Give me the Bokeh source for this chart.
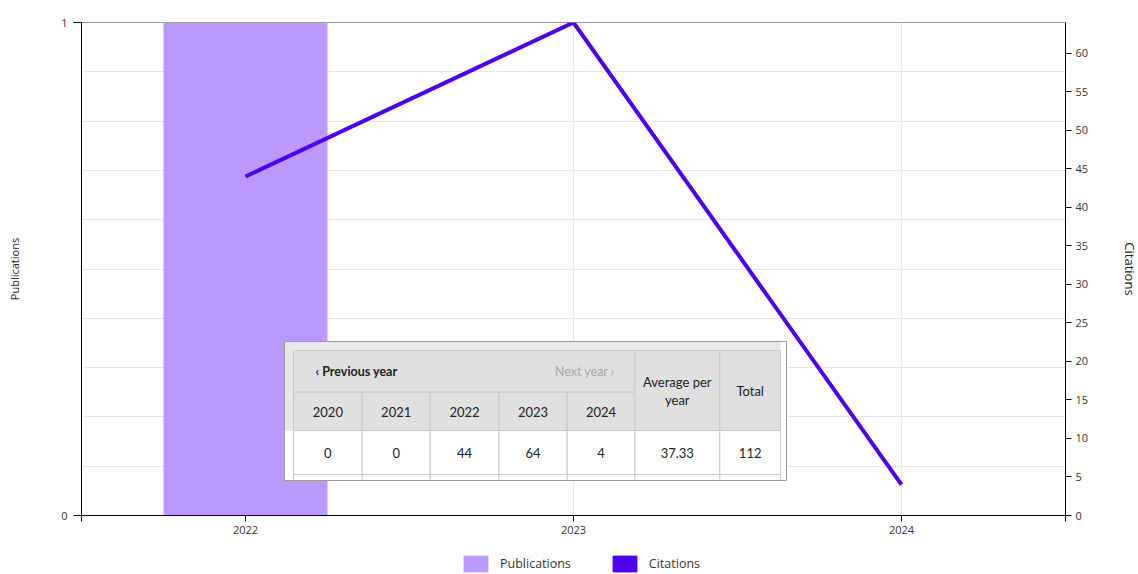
from bokeh.plotting import figure
from bokeh.layouts import column
from bokeh.models import (Range1d, LinearAxis, FixedTicker, SingleIntervalTicker,
                          Legend, LegendItem, NumeralTickFormatter)
from bokeh.embed import file_html
from bokeh.resources import INLINE
from bokeh.core.properties import value

# ---------------- data ----------------
years = [2022, 2023, 2024]
publications = [1, 0, 0]
citations = [44, 64, 4]

x_ticks = [2021.5, 2022, 2023, 2024, 2024.5]
pub_ticks = [0, 1]
cit_ticks = [0, 5, 10, 15, 20, 25, 30, 35, 40, 45, 50, 55, 60]

legend_labels = ["Publications", "Citations"]
axis_left_label = "Publications"
axis_right_label = "Citations"

table_years = ["2020", "2021", "2022", "2023", "2024"]
table_values = ["0", "0", "44", "64", "4"]
table_average = "37.33"
table_total = "112"
table_prev = "\u2039 Previous year"
table_next = "Next year \u203a"
table_avg_head = ["Average per", "year"]
table_total_head = "Total"

# ---------------- style ----------------
PUB_COLOR = "#bb99ff"
CIT_COLOR = "#4c00ee"
FONT = "Open Sans"
TFONT = "Lato"
FW, FH = 984, 493

p = figure(frame_width=FW, frame_height=FH,
           x_range=Range1d(2021.5, 2024.5), y_range=Range1d(0, 1),
           output_backend="svg", toolbar_location=None,
           min_border_left=81, min_border_right=73, min_border_top=22,
           min_border_bottom=30)
p.extra_y_ranges = {"cit": Range1d(0, 64), "py": Range1d(FH, 0)}
p.extra_x_ranges = {"px": Range1d(0, FW)}
p.outline_line_color = "#999999"
p.background_fill_color = "white"
p.border_fill_color = "white"

# grids
p.xgrid.ticker = FixedTicker(ticks=years)
p.xgrid.grid_line_color = "#e6e6e6"
p.ygrid.ticker = SingleIntervalTicker(interval=0.1, num_minor_ticks=0)
p.ygrid.grid_line_color = "#e6e6e6"

# x axis
xa = p.xaxis[0]
xa.ticker = FixedTicker(ticks=x_ticks)
xa.formatter = NumeralTickFormatter(format="0")
xa.major_label_overrides = {2021.5: "", 2024.5: ""}
xa.major_tick_out = 6
xa.major_tick_in = 0
xa.minor_tick_out = 0
xa.minor_tick_in = 0
xa.axis_line_color = "black"
xa.major_tick_line_color = "black"
xa.major_label_text_font = FONT
xa.major_label_text_font_size = "11px"
xa.major_label_text_color = "#333333"
xa.major_label_standoff = 4

# left axis
ya = p.yaxis[0]
ya.ticker = FixedTicker(ticks=pub_ticks)
ya.major_tick_out = 8
ya.major_tick_in = 0
ya.minor_tick_out = 0
ya.minor_tick_in = 0
ya.axis_line_color = "black"
ya.major_tick_line_color = "black"
ya.major_label_text_font = FONT
ya.major_label_text_font_size = "11px"
ya.major_label_text_color = "#333333"
ya.major_label_standoff = 6
ya.axis_label = axis_left_label
ya.axis_label_text_font = FONT
ya.axis_label_text_font_size = "11px"
ya.axis_label_text_font_style = "normal"
ya.axis_label_text_color = "#222222"
ya.axis_label_standoff = 36

# right axis
ra = LinearAxis(y_range_name="cit", ticker=FixedTicker(ticks=cit_ticks),
                axis_label=axis_right_label)
ra.major_tick_out = 6
ra.major_tick_in = 0
ra.minor_tick_out = 0
ra.minor_tick_in = 0
ra.axis_line_color = "black"
ra.major_tick_line_color = "black"
ra.major_label_text_font = FONT
ra.major_label_text_font_size = "11px"
ra.major_label_text_color = "#333333"
ra.major_label_standoff = 4
ra.axis_label_text_font = FONT
ra.axis_label_text_font_size = "13px"
ra.axis_label_text_font_style = "normal"
ra.axis_label_text_color = "#222222"
ra.axis_label_standoff = 30
p.add_layout(ra, "right")

# data marks
pub_r = p.vbar(x=years, top=publications, width=0.5, fill_color=PUB_COLOR, line_color=None)
cit_r = p.line(x=years, y=citations, y_range_name="cit", line_width=4, line_color=CIT_COLOR)

# ---------------- overlay table (frame pixel space) ----------------
kw = dict(x_range_name="px", y_range_name="py")
cols = [212, 280.7, 348.7, 417.3, 485.7, 553.3, 638.3, 699]
rows = [328, 369.7, 408, 452, 458]
BOX = (203, 705, 319, 458)
HEAD_FILL = "#e0e0e0"
CELL_LINE = "#c9c9c9"

p.quad(left=[BOX[0]], right=[BOX[1]], top=[BOX[2]], bottom=[BOX[3]],
       fill_color="white", line_color=None, **kw)
p.quad(left=[BOX[0]], right=[cols[-1]], top=[BOX[2]], bottom=[rows[2]],
       fill_color="#e8e8e8", line_color=None, **kw)

hl, hr, ht, hb, hf = [], [], [], [], []
hl.append(cols[0]); hr.append(cols[5]); ht.append(rows[0]); hb.append(rows[1]); hf.append(HEAD_FILL)
for i in range(5):
    hl.append(cols[i]); hr.append(cols[i + 1]); ht.append(rows[1]); hb.append(rows[2]); hf.append(HEAD_FILL)
for i in (5, 6):
    hl.append(cols[i]); hr.append(cols[i + 1]); ht.append(rows[0]); hb.append(rows[2]); hf.append(HEAD_FILL)
for i in range(7):
    hl.append(cols[i]); hr.append(cols[i + 1]); ht.append(rows[2]); hb.append(rows[3]); hf.append("white")
p.quad(left=hl, right=hr, top=ht, bottom=hb, fill_color=hf, line_color=CELL_LINE, line_width=1, **kw)
p.segment(x0=cols, x1=cols, y0=[rows[3]] * len(cols), y1=[rows[4]] * len(cols),
          line_color=CELL_LINE, **kw)
p.segment(x0=[cols[0]], x1=[cols[-1]], y0=[rows[3]], y1=[rows[3]], line_color=CELL_LINE, **kw)
p.quad(left=[BOX[0]], right=[BOX[1]], top=[BOX[2]], bottom=[BOX[3]],
       fill_color=None, line_color="#9a9a9a", line_width=1, **kw)

centers = [(cols[i] + cols[i + 1]) / 2 for i in range(7)]
p.text(x=[cols[0] + 22], y=[(rows[0] + rows[1]) / 2], text=[table_prev],
       text_font=value(TFONT), text_font_size="12.5px", text_font_style="bold",
       text_color="#222222", text_align="left", text_baseline="middle", **kw)
p.text(x=[cols[5] - 80], y=[(rows[0] + rows[1]) / 2], text=[table_next],
       text_font=value(TFONT), text_font_size="12.5px",
       text_color="#a8a8a8", text_align="left", text_baseline="middle", **kw)
p.text(x=centers[:5], y=[(rows[1] + rows[2]) / 2 + 1] * 5, text=table_years,
       text_font=value(TFONT), text_font_size="13px", text_color="#222222",
       text_align="center", text_baseline="middle", **kw)
p.text(x=[centers[5], centers[5]], y=[359.5, 377], text=table_avg_head,
       text_font=value(TFONT), text_font_size="13px", text_color="#222222",
       text_align="center", text_baseline="middle", **kw)
p.text(x=[centers[6]], y=[368.5], text=[table_total_head],
       text_font=value(TFONT), text_font_size="13px", text_color="#222222",
       text_align="center", text_baseline="middle", **kw)
p.text(x=centers, y=[(rows[2] + rows[3]) / 2] * 7,
       text=table_values + [table_average, table_total],
       text_font=value(TFONT), text_font_size="13px", text_color="#222222",
       text_align="center", text_baseline="middle", **kw)

# ---------------- legend (separate strip below the chart) ----------------
lg = figure(width=1138, height=29, x_range=Range1d(2021.5, 2024.5), y_range=Range1d(100, 200),
            output_backend="svg", toolbar_location=None,
            x_axis_location=None, y_axis_location=None, min_border=0)
lg.grid.visible = False
lg.outline_line_color = None
lg.border_fill_color = "white"
# same series, falling below this strip's view, only to give the legend its swatches
sw_pub = lg.vbar(x=years, top=publications, width=0.5, fill_color=PUB_COLOR, line_color=None)
sw_cit = lg.vbar(x=years, top=citations, width=0.5, fill_color=CIT_COLOR, line_color=None)
legend = Legend(items=[LegendItem(label=legend_labels[0], renderers=[sw_pub]),
                       LegendItem(label=legend_labels[1], renderers=[sw_cit])],
                orientation="horizontal", location=(379, 0),
                glyph_width=31, glyph_height=21, label_height=21,
                label_standoff=9, spacing=38, padding=0, margin=0,
                border_line_color=None, background_fill_alpha=0,
                label_text_font=FONT, label_text_font_size="12.5px",
                label_text_color="#333333")
lg.add_layout(legend, "center")

page = column(p, lg, spacing=0)
open("out.html", "w").write(file_html(page, INLINE))
